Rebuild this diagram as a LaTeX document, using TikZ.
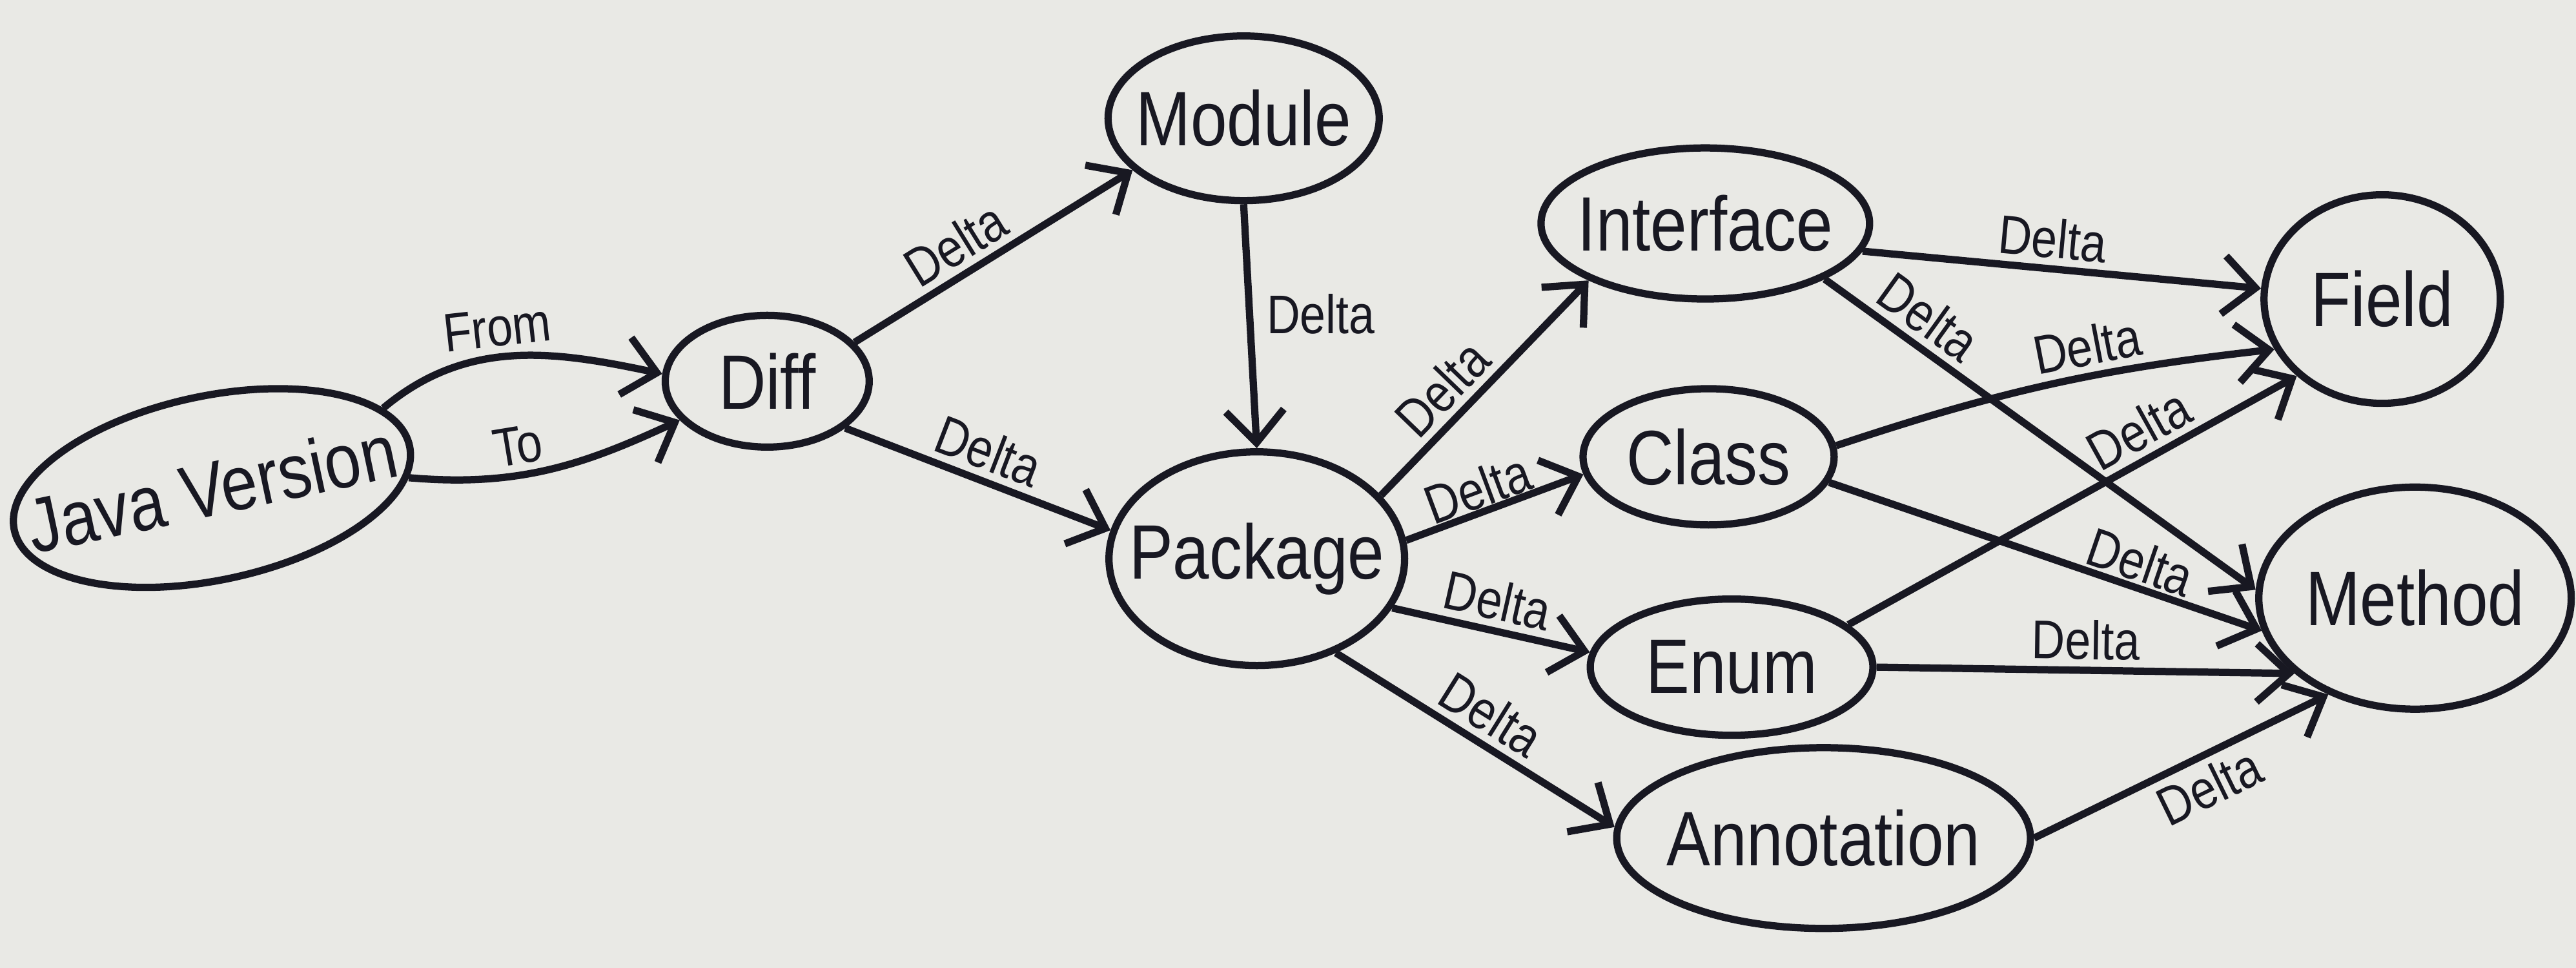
\documentclass[tikz,border=0pt]{standalone}
\usepackage{fontspec}
\setmainfont{Liberation Sans}[FakeStretch=0.85]
\usetikzlibrary{shapes.geometric,arrows.meta}
\definecolor{paper}{RGB}{233,233,229}
\definecolor{ink}{RGB}{24,24,34}
\newcommand\nbx[1]{\makebox[0pt]{#1}}
\begin{document}
\begin{tikzpicture}[x=0.02545cm, y=0.02545cm,
  obj/.style={ellipse, draw=ink, line width=3.2pt, inner sep=0pt, text=ink,
    font=\fontsize{34}{40}\selectfont},
  edge/.style={draw=ink, line width=3.2pt,
    -{Straight Barb[length=0.5cm,width=0.9cm]}},
  lbl/.style={text=ink, font=\fontsize{24}{28}\selectfont, sloped, inner sep=3pt}]
\fill[paper] (0,0) rectangle (1568,589);
\useasboundingbox (0,0) rectangle (1568,589);

\node[obj, minimum width=6.26cm, minimum height=2.85cm, rotate=12] (jv) at (129,292) {\nbx{Java Version}};
\node[obj, minimum width=3.16cm, minimum height=2.04cm] (diff) at (467,357) {\nbx{Diff}};
\node[obj, minimum width=4.20cm, minimum height=2.55cm] (module) at (757,517) {\nbx{Module}};
\node[obj, minimum width=4.58cm, minimum height=3.31cm] (package) at (765,249) {\nbx{Package}};
\node[obj, minimum width=5.09cm, minimum height=2.34cm] (interface) at (1038,453) {\nbx{Interface}};
\node[obj, minimum width=3.89cm, minimum height=2.11cm] (class) at (1040,311) {\nbx{Class}};
\node[obj, minimum width=4.38cm, minimum height=2.11cm] (enum) at (1054,183) {\nbx{Enum}};
\node[obj, minimum width=6.41cm, minimum height=2.80cm] (annotation) at (1110,79) {\nbx{Annotation}};
\node[obj, minimum width=3.66cm, minimum height=3.23cm] (field) at (1450,407) {\nbx{Field}};
\node[obj, minimum width=4.84cm, minimum height=3.44cm] (method) at (1470,225) {\nbx{Method}};

\draw[edge] (jv.13) to[out=40,in=168] node[lbl, pos=.45, above]{From} (diff.176);
\draw[edge] (jv.-9) to[out=-5,in=205] node[lbl, pos=.4, above]{To} (diff.204);

\draw[edge] (diff.24) -- node[lbl, pos=.42, above]{Delta} (module.205);
\draw[edge] (diff.-31) -- node[lbl, pos=.5, above]{Delta} (package.169);
\draw[edge] (module.-90) -- node[text=ink, font=\fontsize{24}{28}\selectfont, pos=.45, right, inner sep=6pt]{Delta} (package.90);

\draw[edge] (package.27) -- node[lbl, pos=.4, above]{Delta} (interface.206);
\draw[edge] (package.7) -- node[lbl, pos=.45, above, inner sep=0pt]{Delta} (class.188);
\draw[edge] (package.-20) -- node[lbl, pos=.5, above]{Delta} (enum.174);
\draw[edge] (package.-50) -- node[lbl, pos=.5, above]{Delta} (annotation.177);

\draw[edge] (interface.-10) -- node[lbl, pos=.47, above]{Delta} (field.175);
\draw[edge] (interface.-25) -- node[lbl, pos=.2, above]{Delta} (method.177);
\draw[edge] (class.5) to[bend left=6] node[lbl, pos=.6, above]{Delta} (field.205);
\draw[edge] (class.-12) -- node[lbl, pos=.7, above, inner sep=1pt]{Delta} (method.192);
\draw[edge] (enum.20) -- node[lbl, pos=.68, above]{Delta} (field.222);
\draw[edge] (enum.0) -- node[lbl, pos=.5, above]{Delta} (method.212);
\draw[edge] (annotation.0) -- node[lbl, pos=.55, below]{Delta} (method.228);
\end{tikzpicture}
\end{document}
